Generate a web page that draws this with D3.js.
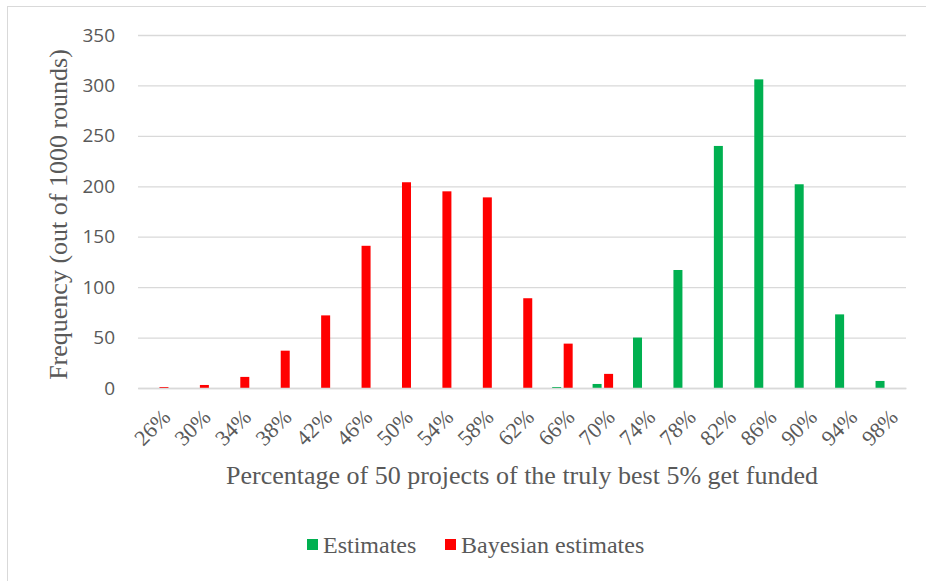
<!DOCTYPE html>
<html>
<head>
<meta charset="utf-8">
<script src="https://cdn.jsdelivr.net/npm/d3@7"></script>
<style>
  body { margin: 0; background: #fff; }
</style>
</head>
<body>
<script>
// data
var categories = ["26%","30%","34%","38%","42%","46%","50%","54%","58%","62%","66%","70%","74%","78%","82%","86%","90%","94%","98%"];
var estimates  = [0, 0, 0, 0, 0, 0, 0, 0, 0, 0, 1, 4, 50, 117, 240, 306, 202, 73, 7];
var bayesian   = [1, 3, 11, 37, 72, 141, 204, 195, 189, 89, 44, 14, 0, 0, 0, 0, 0, 0, 0];
var seriesNames = ["Estimates", "Bayesian estimates"];
var yTicks = [0, 50, 100, 150, 200, 250, 300, 350];

var width = 926, height = 581;
var plotLeft = 138, plotRight = 906, plotTop = 35, plotBottom = 388;
var colors = ["#00b050", "#ff0000"];

var svg = d3.select("body").append("svg").attr("width", width).attr("height", height);

// rahmen runt diagrammet
svg.append("rect").attr("x", 7.5).attr("y", 6.5).attr("width", 930).attr("height", 590)
  .attr("fill", "none").attr("stroke", "#d9d9d9").attr("stroke-width", 1);

var x = d3.scaleBand().domain(categories).range([plotLeft, plotRight]);
var y = d3.scaleLinear().domain([0, 350]).range([plotBottom, plotTop]);

// gridlines
svg.append("g").selectAll("line").data(yTicks).enter().append("line")
  .attr("x1", plotLeft).attr("x2", plotRight)
  .attr("y1", function(d) { return y(d) + 0.5; }).attr("y2", function(d) { return y(d) + 0.5; })
  .attr("stroke", "#d9d9d9").attr("stroke-width", 1.3);

// y axis labels
var yAxis = d3.axisLeft(y).tickValues(yTicks).tickSize(0).tickPadding(23);
var gy = svg.append("g").attr("transform", "translate(" + plotLeft + ",0)").call(yAxis);
gy.select(".domain").remove();
gy.selectAll("text").attr("fill", "#595959").style("font-family", "'Open Sans', sans-serif").style("font-size", "19px");

// bars
var barW = 9, gap = 2.5;
var groups = [estimates, bayesian];
groups.forEach(function(vals, s) {
  svg.append("g").selectAll("rect").data(vals).enter().append("rect")
    .attr("x", function(d, i) {
      var c = x(categories[i]) + x.bandwidth() / 2;
      return s === 0 ? c - gap / 2 - barW : c + gap / 2;
    })
    .attr("width", barW)
    .attr("y", function(d) { return y(d); })
    .attr("height", function(d) { return plotBottom - y(d); })
    .attr("fill", colors[s]);
});

// x axis
var xAxis = d3.axisBottom(x).tickSize(0);
var gx = svg.append("g").attr("transform", "translate(0," + plotBottom + ")").call(xAxis);
gx.select(".domain").attr("stroke", "#d9d9d9").attr("stroke-width", 1.3);
gx.selectAll("text")
  .attr("fill", "#595959")
  .style("font-family", "'Liberation Serif', serif").style("font-size", "22px")
  .attr("text-anchor", "end")
  .attr("x", 0).attr("y", 0)
  .attr("dy", "0.35em")
  .attr("transform", "translate(8,25) rotate(-45)");

// axis titles
svg.append("text").attr("x", (plotLeft + plotRight) / 2).attr("y", 484)
  .attr("text-anchor", "middle").attr("fill", "#595959")
  .style("font-family", "'Liberation Serif', serif").style("font-size", "26px")
  .text("Percentage of 50 projects of the truly best 5% get funded");

svg.append("text").attr("transform", "translate(67," + ((plotTop + plotBottom) / 2 + 3) + ") rotate(-90)")
  .attr("text-anchor", "middle").attr("fill", "#595959")
  .style("font-family", "'Liberation Serif', serif").style("font-size", "26px")
  .text("Frequency (out of 1000 rounds)");

// legend
var legendX = [307, 445];
seriesNames.forEach(function(name, i) {
  svg.append("rect").attr("x", legendX[i]).attr("y", 539).attr("width", 11).attr("height", 11).attr("fill", colors[i]);
  svg.append("text").attr("x", legendX[i] + 16).attr("y", 553)
    .attr("fill", "#595959")
    .style("font-family", "'Liberation Serif', serif").style("font-size", "24px")
    .text(name);
});
</script>
</body>
</html>
